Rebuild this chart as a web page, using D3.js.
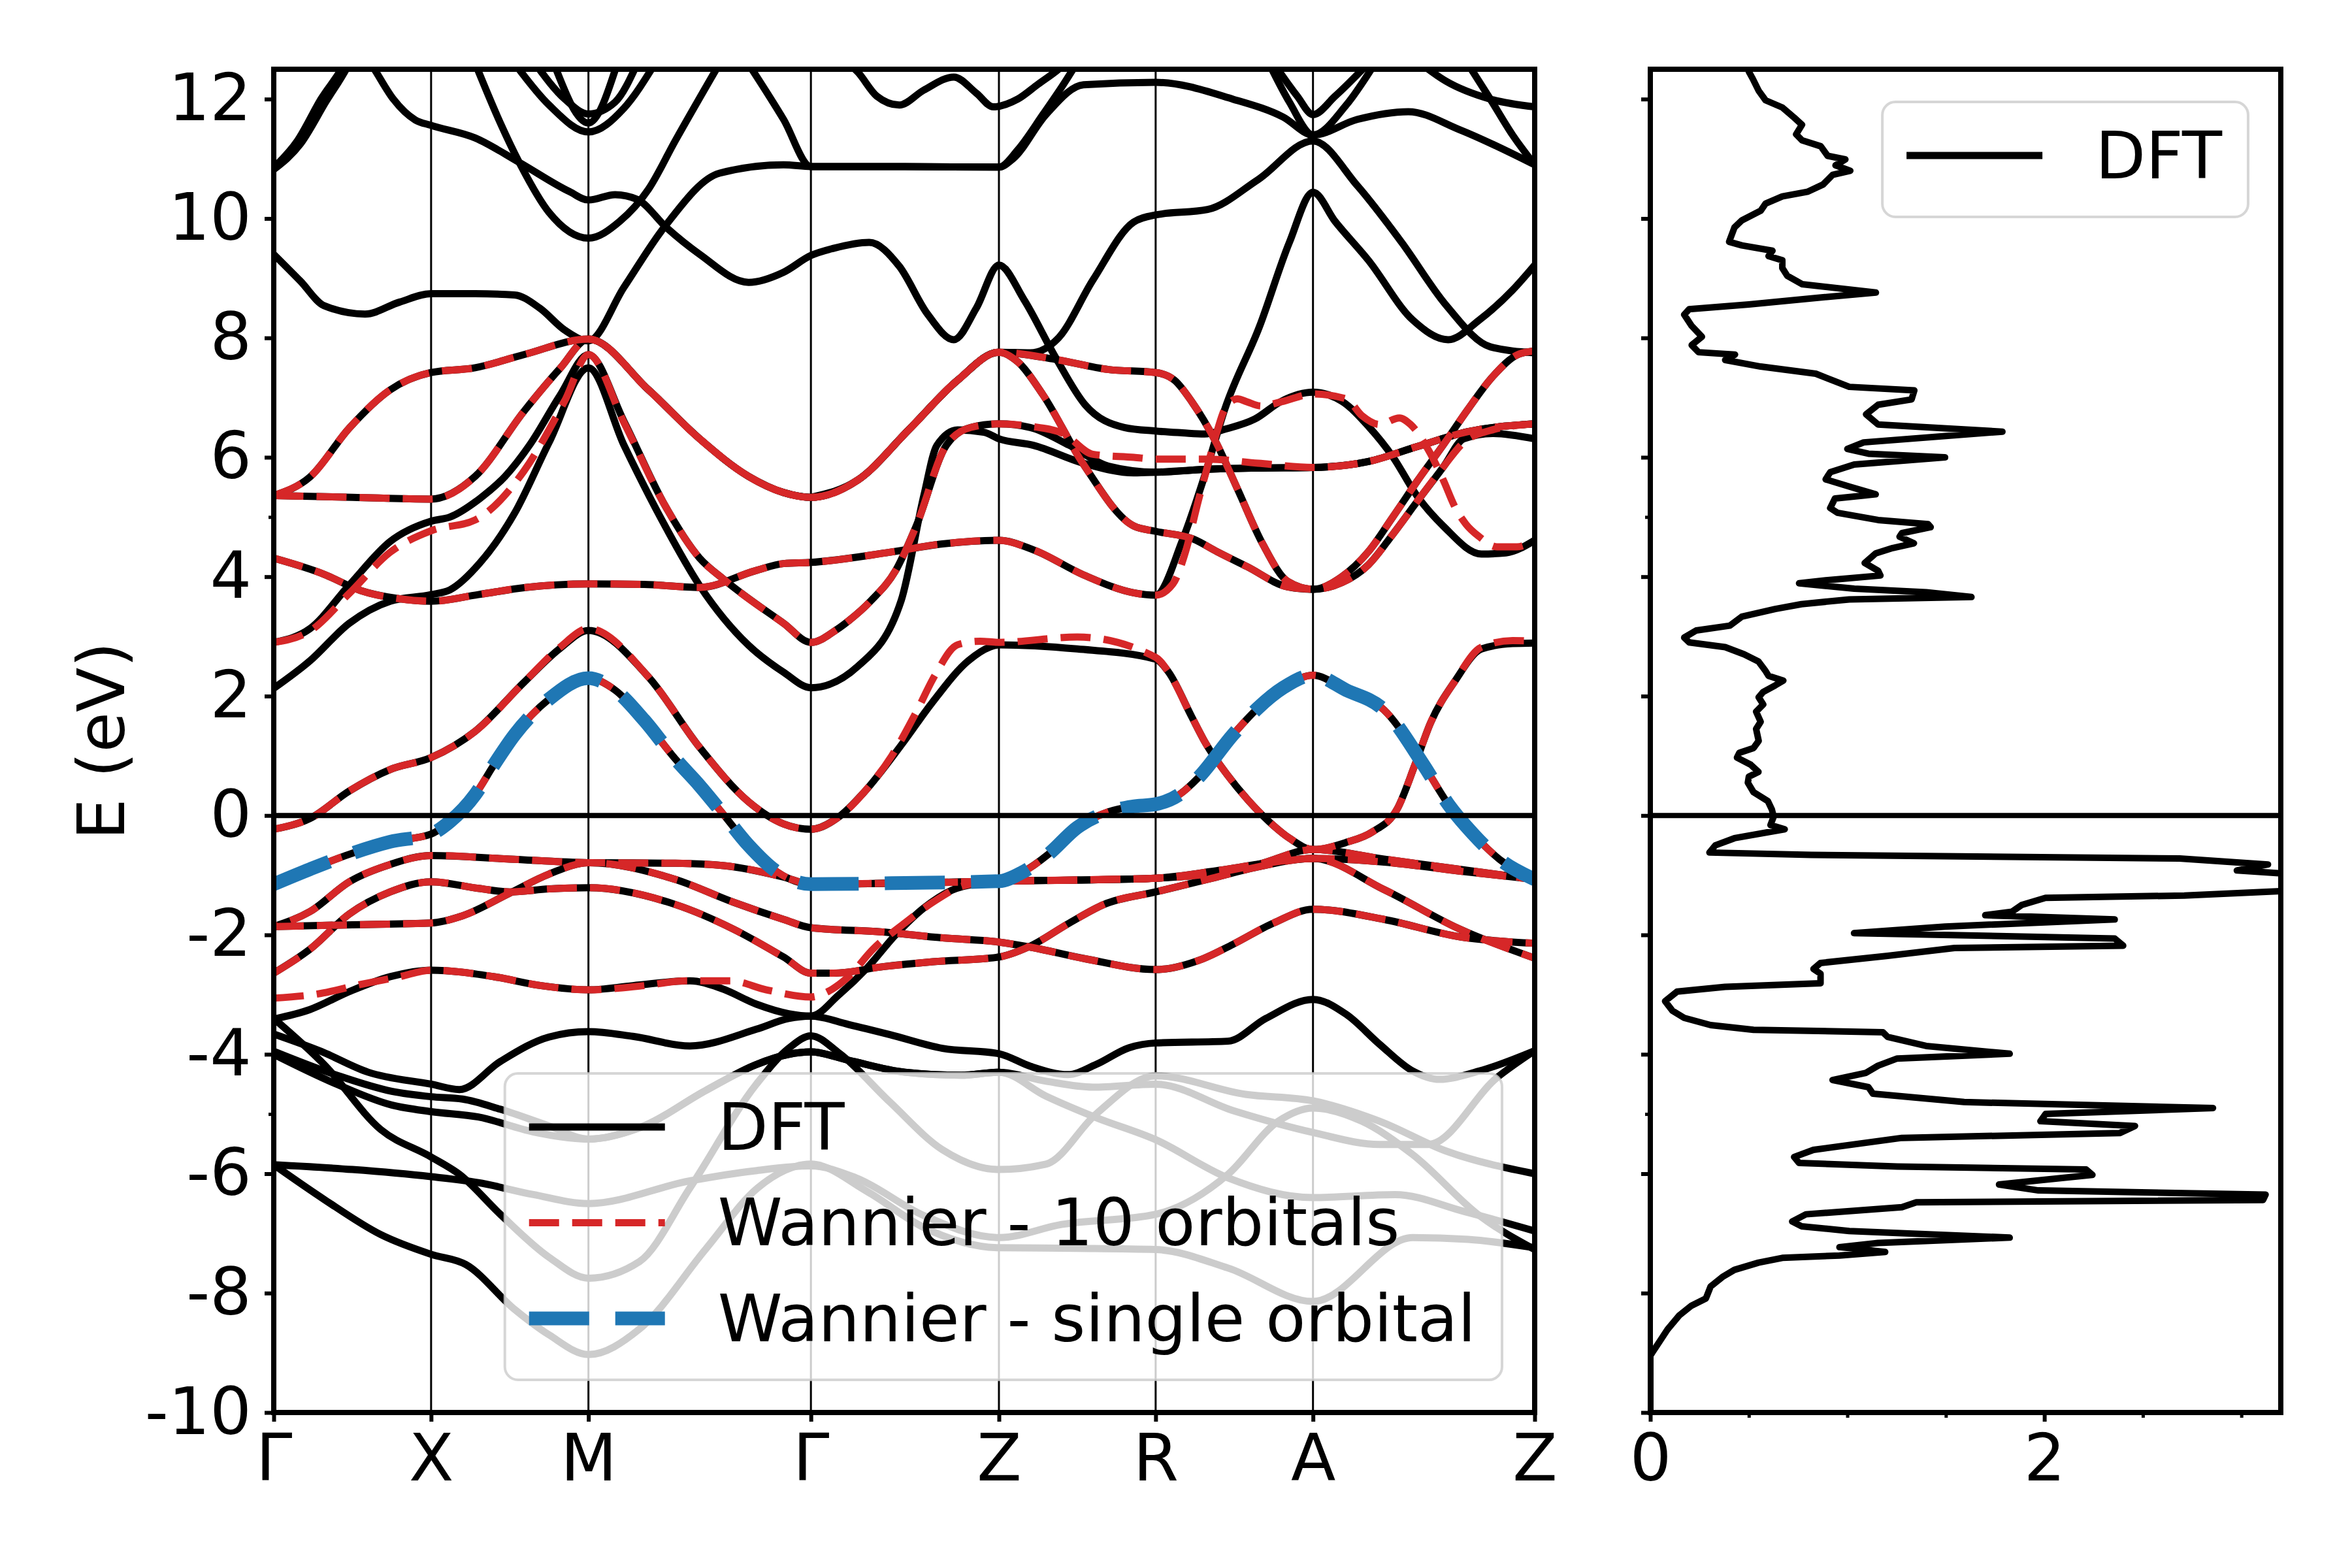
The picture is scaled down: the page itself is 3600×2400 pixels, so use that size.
<!DOCTYPE html>
<html>
<head>
<meta charset="utf-8">
<script src="https://cdn.jsdelivr.net/npm/d3@7/dist/d3.min.js"></script>
<style>
  body { margin: 0; background: #fff; }
</style>
</head>
<body>
<div id="chart"></div>
<script>
// k-path: labels and cumulative path length of each high-symmetry point
const kLabels = ["Γ", "X", "M", "Γ", "Z", "R", "A", "Z"];
const kDist = [0, 1, 2, 3.414, 4.609, 5.605, 6.605, 8.014];

const eTicks = [-10, -8, -6, -4, -2, 0, 2, 4, 6, 8, 10, 12];
const eMinor = [-5, 5];
const dosTicks = [0, 2];
const dosMinor = [0.5, 1, 1.5, 2.5, 3];

// bands: [segment position (0 = Γ ... 7 = Z), energy in eV]
// Wannier - 10 orbitals
const w10 = [[0,5.36],[0.23,5.67],[0.48,6.49],[0.74,7.13],[1,7.42],[1.28,7.5],[1.59,7.72],[2,7.98],[2.27,7.13],[2.5,6.31],[2.72,5.68],[2.877,5.41],[3,5.33],[3.25,5.62],[3.52,6.46],[3.78,7.29],[4,7.76],[4.36,7.64],[4.7,7.47],[5,7.42],[5.12,7.29],[5.23,6.93],[5.38,6.27],[5.52,5.47],[5.68,4.55],[5.84,3.92],[6,3.79],[6.13,4.0],[6.25,4.42],[6.36,5.0],[6.47,5.6],[6.59,6.22],[6.7,6.81],[6.81,7.35],[6.93,7.73],[7,7.78]];
const w9 = [[0,5.36],[0.5,5.33],[1,5.3],[1.28,5.68],[1.59,6.77],[1.82,7.49],[2,7.98],[2.27,7.13],[2.5,6.31],[2.72,5.68],[2.877,5.41],[3,5.33],[3.25,5.62],[3.52,6.46],[3.78,7.29],[4,7.76],[4.12,7.6],[4.28,7.05],[4.54,5.88],[4.86,4.85],[5,4.76],[5.24,4.63],[5.39,4.42],[5.58,4.17],[5.84,3.83],[6,3.79],[6.13,3.9],[6.25,4.2],[6.36,4.71],[6.47,5.26],[6.59,5.85],[6.68,6.25],[6.8,6.45],[7,6.56]];
const w8 = [[0,4.31],[0.32,4.04],[0.55,3.77],[0.8,3.63],[1,3.59],[1.3,3.7],[1.6,3.82],[2,3.88],[2.25,3.87],[2.5,3.82],[2.75,4.1],[2.877,4.22],[3,4.24],[3.4,4.4],[3.7,4.55],[4,4.61],[4.22,4.45],[4.54,4.03],[4.86,3.73],[5,3.69],[5.11,3.88],[5.19,4.42],[5.27,5.26],[5.33,5.85],[5.39,6.43],[5.44,6.81],[5.52,6.98],[5.58,6.93],[5.67,6.86],[5.8,6.93],[6,7.06],[6.15,6.98],[6.22,6.7],[6.3,6.55],[6.39,6.66],[6.44,6.55],[6.53,6.06],[6.59,5.6],[6.64,5.17],[6.69,4.88],[6.75,4.67],[6.83,4.5],[6.92,4.5],[7,4.61]];
const w7 = [[0,2.9],[0.23,3.09],[0.48,3.72],[0.74,4.41],[1,4.77],[1.28,4.95],[1.59,5.77],[1.85,6.95],[2,7.72],[2.16,6.58],[2.34,5.22],[2.5,4.31],[2.61,3.95],[2.877,3.22],[3,2.9],[3.14,3.12],[3.2,3.26],[3.32,3.6],[3.45,4.1],[3.56,4.85],[3.72,6.2],[3.85,6.5],[4,6.56],[4.2,6.52],[4.41,6.4],[4.6,6.05],[4.86,6.0],[5,5.97],[5.33,5.97],[5.65,5.9],[6,5.83],[6.25,5.93],[6.47,6.18],[6.7,6.43],[7,6.56]];
const w6 = [[0,-0.23],[0.23,-0.05],[0.48,0.41],[0.74,0.77],[1,0.97],[1.28,1.41],[1.59,2.23],[1.82,2.82],[2,3.13],[2.27,2.32],[2.5,1.14],[2.72,0.23],[2.877,-0.14],[3,-0.23],[3.15,-0.02],[3.28,0.38],[3.43,1.0],[3.56,1.73],[3.66,2.35],[3.78,2.86],[3.9,2.92],[4,2.9],[4.5,2.99],[5,2.65],[5.08,2.41],[5.23,1.65],[5.32,1.2],[5.45,0.7],[5.59,0.25],[5.72,-0.1],[5.85,-0.38],[6,-0.57],[6.15,-0.45],[6.27,-0.27],[6.38,0.11],[6.46,0.85],[6.53,1.55],[6.64,2.25],[6.76,2.82],[6.9,2.93],[7,2.92]];
const w5 = [[0,-1.15],[0.23,-0.9],[0.48,-0.65],[0.74,-0.44],[1,-0.31],[1.12,-0.1],[1.28,0.35],[1.4,0.85],[1.53,1.35],[1.75,1.95],[2,2.3],[2.12,2.1],[2.25,1.6],[2.39,0.95],[2.5,0.5],[2.6,0.05],[2.72,-0.5],[2.85,-0.95],[3,-1.15],[3.5,-1.13],[4,-1.1],[4.15,-0.95],[4.315,-0.65],[4.5,-0.2],[4.697,0.06],[4.85,0.15],[5,0.19],[5.15,0.35],[5.27,0.63],[5.49,1.35],[5.65,1.8],[5.81,2.14],[6,2.35],[6.15,2.1],[6.32,1.77],[6.5,0.84],[6.61,0.19],[6.72,-0.3],[6.84,-0.73],[7,-1.07]];
const w4 = [[0,-1.86],[0.23,-1.61],[0.48,-1.11],[0.74,-0.82],[1,-0.67],[1.5,-0.73],[2,-0.79],[2.39,-0.8],[2.61,-0.84],[2.877,-1.03],[3,-1.15],[3.5,-1.13],[4,-1.1],[4.5,-1.08],[5,-1.05],[5.4,-0.92],[5.7,-0.8],[6,-0.72],[6.32,-0.78],[6.66,-0.93],[7,-1.07]];
const w3 = [[0,-1.86],[0.5,-1.83],[1,-1.8],[1.2,-1.68],[1.5,-1.3],[1.75,-0.98],[2,-0.79],[2.39,-1.07],[2.65,-1.45],[2.877,-1.74],[3,-1.88],[3.38,-1.95],[3.7,-2.05],[4,-2.12],[4.19,-2.2],[4.55,-2.4],[5,-2.58],[5.3,-2.4],[5.49,-2.16],[5.75,-1.8],[6,-1.57],[6.32,-1.74],[6.66,-2.03],[7,-2.14]];
const w2 = [[0,-2.64],[0.23,-2.24],[0.48,-1.65],[0.74,-1.28],[1,-1.11],[1.3,-1.22],[1.5,-1.28],[1.75,-1.23],[2,-1.21],[2.39,-1.49],[2.65,-1.9],[2.877,-2.37],[3,-2.64],[3.12,-2.64],[3.39,-2.53],[3.65,-2.45],[4,-2.37],[4.19,-2.2],[4.45,-1.8],[4.67,-1.49],[5,-1.28],[5.33,-1.07],[5.65,-0.86],[6,-0.72],[6.32,-1.24],[6.66,-1.9],[7,-2.39]];
const w1 = [[0,-3.06],[0.3,-2.98],[0.55,-2.83],[0.8,-2.7],[1,-2.59],[1.4,-2.7],[1.7,-2.85],[2,-2.92],[2.25,-2.85],[2.44,-2.77],[2.64,-2.77],[2.8,-2.92],[3,-3.04],[3.09,-2.95],[3.2,-2.7],[3.33,-2.24],[3.5,-1.8],[3.65,-1.45],[3.81,-1.18],[4,-1.1],[4.5,-1.08],[5,-1.05],[5.33,-0.98],[5.65,-0.82],[6,-0.57],[6.32,-0.73],[6.66,-0.9],[7,-1.07]];
const wannier10 = [w1, w2, w3, w4, w5, w6, w7, w8, w9, w10];

// Wannier - single orbital
const wannier1 = w5;

// DFT bands
const u1 = [[0,10.85],[0.15,11.3],[0.3,12.0],[0.45,12.6],[0.55,13.2]];
const u2 = [[0,10.82],[0.17,11.25],[0.33,11.95],[0.48,12.6],[0.58,13.2]];
const u3 = [[0.52,13.0],[0.64,12.5],[0.76,12.0],[0.9,11.65],[1,11.56],[1.28,11.35],[1.56,10.94],[1.88,10.45],[2,10.31],[2.12,10.4],[2.22,10.32],[2.35,9.85],[2.5,9.4],[2.72,8.93],[2.877,9.1],[3,9.38],[3.12,9.5],[3.31,9.6],[3.47,9.2],[3.62,8.4],[3.76,7.97],[3.88,8.5],[4,9.22],[4.16,8.64],[4.36,7.68],[4.55,6.88],[4.8,6.5],[5,6.44],[5.17,6.41],[5.31,6.39],[5.44,6.47],[5.63,6.64],[5.8,6.94],[6,7.09],[6.13,6.94],[6.25,6.52],[6.36,6.01],[6.47,5.35],[6.59,4.84],[6.76,4.38],[6.87,4.4],[7,4.61]];
const u4 = [[0,9.4],[0.17,8.95],[0.32,8.54],[0.58,8.4],[0.8,8.6],[1,8.74],[1.28,8.74],[1.53,8.72],[1.69,8.5],[1.85,8.13],[2,7.95],[2.16,8.85],[2.34,9.85],[2.59,10.76],[2.877,10.9],[3,10.87],[3.5,10.87],[4,10.86],[4.09,11.0],[4.3,11.74],[4.54,12.24],[5,12.28],[5.49,12.0],[5.81,11.7],[6,11.4],[6.2,11.66],[6.43,11.79],[6.66,11.49],[7,10.9]];
const u5 = [[1.28,12.6],[1.44,11.6],[1.56,10.94],[1.75,10.1],[2,9.67],[2.14,9.95],[2.27,10.49],[2.39,11.3],[2.59,12.6]];
const u6 = [[2.7,12.7],[2.877,11.66],[3,10.87],[3.5,10.87],[4,10.86],[4.12,11.15],[4.28,11.74],[4.41,12.24],[4.52,12.7]];
const u7 = [[3.1,12.8],[3.25,12.45],[3.35,12.05],[3.47,11.9],[3.6,12.15],[3.76,12.37],[3.88,12.1],[3.97,11.87],[4.12,12.0],[4.25,12.25],[4.38,12.5],[4.5,12.8]];
const u8 = [[3,5.33],[3.25,5.62],[3.52,6.46],[3.78,7.29],[4,7.76],[4.2,7.75],[4.38,8.0],[4.6,8.97],[4.86,9.94],[5,10.06],[5.33,10.15],[5.65,10.65],[6,11.3],[6.2,10.55],[6.4,9.6],[6.6,8.55],[6.8,7.85],[7,7.75]];
const u9 = [[5.75,12.6],[5.9,12.05],[6,11.74],[6.1,12.05],[6.25,12.6]];
const u10 = [[5.72,12.6],[5.85,11.95],[6,11.4],[6.15,11.9],[6.28,12.6]];
const u11 = [[6.45,12.7],[6.6,12.3],[6.8,12.0],[7,11.87]];
const u12 = [[6.68,12.7],[6.8,12.0],[6.9,11.4],[7,10.9]];
const u13 = [[1.66,12.6],[1.85,12.0],[2,11.75],[2.12,11.95],[2.22,12.6]];
const u14 = [[1.53,12.6],[1.75,11.9],[2,11.45],[2.16,11.85],[2.3,12.6]];
const u15 = [[1.78,12.6],[2,11.6],[2.13,12.6]];
const bb = [[0,5.36],[0.5,5.33],[1,5.3],[1.28,5.68],[1.59,6.77],[1.82,7.49],[2,7.98],[2.27,7.13],[2.5,6.31],[2.72,5.68],[2.877,5.41],[3,5.33],[3.25,5.62],[3.52,6.46],[3.78,7.29],[4,7.76],[4.12,7.6],[4.28,7.05],[4.54,5.88],[4.86,4.85],[5,4.76],[5.24,4.63],[5.39,4.42],[5.58,4.17],[5.84,3.83],[6,3.79],[6.13,3.9],[6.25,4.2],[6.36,4.71],[6.47,5.26],[6.59,5.85],[6.68,6.31],[6.81,6.4],[7,6.31]];
const bc = [[0,2.9],[0.23,3.13],[0.48,3.86],[0.74,4.59],[1,4.93],[1.12,5.0],[1.31,5.31],[1.47,5.68],[1.63,6.22],[1.82,7.04],[2,7.72],[2.16,6.6],[2.34,5.22],[2.5,4.31],[2.61,3.95],[2.877,3.22],[3,2.9],[3.14,3.12],[3.2,3.26],[3.32,3.6],[3.45,4.1],[3.56,4.85],[3.72,6.2],[3.85,6.5],[4,6.56],[4.2,6.5],[4.45,6.2],[4.7,5.85],[5,5.75],[5.33,5.8],[5.65,5.82],[6,5.83],[6.25,5.93],[6.47,6.18],[6.7,6.43],[7,6.56]];
const bd = [[0,2.13],[0.23,2.59],[0.48,3.22],[0.74,3.59],[1,3.7],[1.12,3.78],[1.31,4.23],[1.53,5.06],[1.75,6.25],[2,7.5],[2.16,6.2],[2.33,4.95],[2.5,3.85],[2.72,2.85],[2.877,2.4],[3,2.14],[3.25,2.5],[3.48,3.6],[3.6,5.35],[3.67,6.2],[3.78,6.46],[3.92,6.42],[4,6.31],[4.22,6.2],[4.54,5.9],[4.86,5.74],[5,5.75],[5.33,5.8],[5.65,5.82],[6,5.83],[6.25,5.93],[6.47,6.18],[6.7,6.43],[7,6.56]];
const be = [[0,4.31],[0.32,4.04],[0.55,3.77],[0.8,3.63],[1,3.59],[1.3,3.7],[1.6,3.82],[2,3.88],[2.25,3.87],[2.5,3.82],[2.75,4.1],[2.877,4.22],[3,4.24],[3.4,4.4],[3.7,4.55],[4,4.61],[4.22,4.45],[4.54,4.03],[4.86,3.73],[5,3.69],[5.17,4.61],[5.31,5.68],[5.44,6.81],[5.66,8.19],[5.85,9.6],[6,10.44],[6.1,9.95],[6.25,9.3],[6.45,8.3],[6.61,7.97],[6.75,8.3],[6.9,8.8],[7,9.22]];
const bf = [[0,-0.23],[0.23,-0.05],[0.48,0.41],[0.74,0.77],[1,0.97],[1.28,1.41],[1.59,2.23],[1.82,2.8],[2,3.1],[2.27,2.32],[2.5,1.14],[2.72,0.23],[2.877,-0.14],[3,-0.23],[3.15,-0.02],[3.28,0.38],[3.49,1.22],[3.64,1.87],[3.84,2.6],[3.95,2.82],[4,2.86],[4.5,2.79],[5,2.62],[5.08,2.41],[5.23,1.65],[5.32,1.2],[5.45,0.7],[5.59,0.25],[5.72,-0.1],[5.85,-0.38],[6,-0.57],[6.15,-0.45],[6.27,-0.27],[6.38,0.11],[6.46,0.85],[6.53,1.55],[6.64,2.25],[6.76,2.79],[6.9,2.88],[7,2.89]];
const bk = [[0,-3.41],[0.23,-3.25],[0.48,-2.95],[0.74,-2.7],[1,-2.59],[1.4,-2.7],[1.7,-2.85],[2,-2.92],[2.2,-2.85],[2.456,-2.77],[2.6,-2.9],[2.755,-3.16],[2.9,-3.32],[3,-3.36],[3.15,-3.0],[3.3,-2.55],[3.45,-2.0],[3.6,-1.55],[3.75,-1.25],[3.9,-1.13],[4,-1.1],[4.5,-1.08],[5,-1.05],[5.33,-0.98],[5.65,-0.82],[6,-0.57],[6.32,-0.73],[6.66,-0.9],[7,-1.07]];
const bl = [[0,-3.66],[0.3,-3.95],[0.6,-4.3],[1,-4.5],[1.18,-4.59],[1.44,-4.12],[1.75,-3.71],[2,-3.62],[2.2,-3.7],[2.456,-3.86],[2.755,-3.58],[2.9,-3.4],[3,-3.36],[3.2,-3.5],[3.42,-3.67],[3.7,-3.9],[4,-3.99],[4.2,-4.2],[4.44,-4.34],[4.62,-4.17],[4.83,-3.89],[5,-3.81],[5.46,-3.78],[5.7,-3.4],[6,-3.08],[6.15,-3.33],[6.3,-3.83],[6.45,-4.28],[6.57,-4.42],[6.75,-4.28],[7,-3.94]];
const l1 = [[0,-3.4],[0.32,-4.17],[0.68,-5.26],[1,-5.72],[1.18,-6.01],[1.44,-6.68],[1.75,-7.4],[2,-7.75],[2.23,-7.47],[2.456,-6.24],[2.755,-4.5],[2.9,-3.9],[3,-3.69],[3.15,-3.98],[3.42,-4.8],[3.7,-5.6],[4,-5.93],[4.3,-5.84],[4.62,-5.0],[5,-4.36],[5.57,-4.67],[6,-4.78],[6.3,-5.12],[6.6,-5.62],[7,-6.0]];
const l2 = [[0,-4.0],[0.4,-4.5],[0.75,-4.85],[1,-4.96],[1.3,-5.05],[1.65,-5.3],[2,-5.42],[2.23,-5.23],[2.53,-4.6],[2.755,-4.17],[2.9,-4.0],[3,-3.96],[3.2,-4.1],[3.5,-4.3],[3.8,-4.35],[4,-4.3],[4.3,-4.7],[4.62,-5.06],[5,-5.43],[5.46,-6.07],[6,-6.4],[6.37,-6.35],[6.68,-6.63],[7,-6.96]];
const l3 = [[0,-5.85],[0.5,-5.93],[1,-6.05],[1.3,-6.15],[1.65,-6.35],[2,-6.5],[2.456,-6.12],[2.75,-5.95],[3,-5.87],[3.24,-6.07],[3.6,-6.7],[4,-7.07],[4.4,-6.85],[5,-6.68],[5.46,-6.01],[5.78,-5.12],[6,-4.9],[6.22,-5.12],[6.45,-5.68],[6.75,-6.7],[7,-7.27]];
const l4 = [[0,-5.85],[0.32,-6.43],[0.68,-7.02],[1,-7.35],[1.22,-7.52],[1.53,-8.27],[1.75,-8.7],[2,-9.03],[2.23,-8.6],[2.53,-7.25],[2.76,-6.24],[3,-5.84],[3.3,-6.3],[3.6,-6.9],[4,-7.24],[4.5,-7.25],[5,-7.27],[5.46,-7.58],[6,-8.14],[6.45,-7.07],[6.7,-7.1],[7,-7.24]];
const l6 = [[0,-3.95],[0.4,-4.35],[0.75,-4.62],[1,-4.71],[1.2,-4.75],[1.44,-4.92],[1.75,-5.2],[2,-5.42],[2.23,-5.23],[2.53,-4.6],[2.755,-4.17],[2.9,-4.0],[3,-3.96],[3.2,-4.1],[3.5,-4.3],[3.8,-4.35],[4,-4.3],[4.3,-4.45],[4.6,-4.55],[5,-4.5],[5.5,-4.95],[6,-5.31],[6.3,-5.51],[6.52,-5.51],[6.83,-4.39],[7,-3.94]];
const dftBands = [u1, u2, u3, u4, u5, u6, u7, u8, u9, u10, u11, u12, u13, u14, u15,
  w10, bb, bc, bd, be, bf, w5, w4, w3, w2, bk, bl, l1, l2, l3, l4, l6];

// density of states: [energy eV, DOS]
const dos = [[12.5,0.50],[12.46,0.50],[12.34,0.52],[12.14,0.55],[11.98,0.585],[11.86,0.67],[11.69,0.73],[11.57,0.77],[11.41,0.74],[11.31,0.77],[11.21,0.865],[11.05,0.90],[10.99,0.99],[10.89,0.94],[10.80,1.015],[10.73,0.925],[10.57,0.877],[10.45,0.80],[10.37,0.67],[10.25,0.585],[10.13,0.56],[9.97,0.465],[9.85,0.427],[9.61,0.40],[9.55,0.465],[9.46,0.62],[9.37,0.60],[9.30,0.67],[9.17,0.67],[9.04,0.695],[8.90,0.77],[8.76,1.145],[8.68,0.877],[8.56,0.50],[8.48,0.197],[8.39,0.172],[8.20,0.21],[8.02,0.262],[7.88,0.21],[7.76,0.245],[7.72,0.43],[7.63,0.38],[7.52,0.56],[7.40,0.84],[7.18,1.01],[7.12,1.34],[6.97,1.326],[6.88,1.156],[6.72,1.095],[6.55,1.156],[6.43,1.787],[6.25,1.083],[6.14,1.0],[6.06,1.107],[6.0,1.496],[5.88,1.035],[5.75,0.913],[5.63,0.89],[5.51,1.01],[5.38,1.144],[5.31,0.937],[5.15,0.913],[5.07,0.95],[4.95,1.156],[4.88,1.41],[4.83,1.423],[4.73,1.277],[4.67,1.265],[4.56,1.338],[4.48,1.23],[4.39,1.144],[4.23,1.088],[4.10,1.156],[4.02,1.168],[3.94,0.89],[3.89,0.755],[3.80,1.035],[3.74,1.40],[3.66,1.63],[3.62,1.01],[3.54,0.767],[3.46,0.634],[3.33,0.464],[3.18,0.403],[3.10,0.233],[2.98,0.172],[2.90,0.197],[2.82,0.38],[2.70,0.476],[2.58,0.549],[2.42,0.585],[2.34,0.60],[2.26,0.675],[2.18,0.634],[2.07,0.573],[1.98,0.55],[1.86,0.573],[1.74,0.537],[1.57,0.56],[1.45,0.537],[1.25,0.55],[1.13,0.524],[1.05,0.452],[0.97,0.44],[0.85,0.51],[0.73,0.549],[0.65,0.50],[0.55,0.495],[0.39,0.524],[0.24,0.597],[0.10,0.617],[-0.02,0.626],[-0.16,0.61],[-0.23,0.682],[-0.38,0.427],[-0.50,0.33],[-0.62,0.30],[-0.66,0.816],[-0.72,2.686],[-0.82,3.135],[-0.92,2.977],[-0.98,3.25],[-1.12,3.6],[-1.26,3.25],[-1.34,2.71],[-1.38,2.006],[-1.50,1.884],[-1.61,1.836],[-1.67,1.70],[-1.74,2.357],[-1.86,1.496],[-1.97,1.034],[-2.06,2.357],[-2.18,2.40],[-2.22,1.544],[-2.35,1.205],[-2.47,0.864],[-2.57,0.828],[-2.65,0.864],[-2.81,0.864],[-2.87,0.379],[-2.95,0.136],[-3.11,0.075],[-3.27,0.112],[-3.39,0.172],[-3.51,0.306],[-3.59,0.524],[-3.63,1.18],[-3.71,1.205],[-3.86,1.40],[-3.99,1.824],[-4.07,1.253],[-4.19,1.156],[-4.31,1.095],[-4.43,0.925],[-4.55,1.107],[-4.66,1.13],[-4.80,1.593],[-4.90,2.856],[-5.0,2.006],[-5.12,1.98],[-5.20,2.46],[-5.32,2.382],[-5.40,1.277],[-5.60,0.828],[-5.72,0.73],[-5.82,0.755],[-5.88,1.253],[-5.93,2.212],[-6.02,2.244],[-6.12,1.945],[-6.18,1.77],[-6.28,1.97],[-6.35,3.123],[-6.44,3.11],[-6.48,1.35],[-6.56,1.277],[-6.68,0.79],[-6.80,0.72],[-6.88,0.767],[-6.96,1.01],[-7.07,1.824],[-7.16,1.156],[-7.23,0.96],[-7.31,1.192],[-7.37,0.96],[-7.41,0.67],[-7.49,0.549],[-7.61,0.427],[-7.73,0.366],[-7.89,0.306],[-8.09,0.282],[-8.21,0.209],[-8.37,0.148],[-8.61,0.087],[-8.85,0.039],[-8.97,0.015],[-9.05,0],[-10,0]];

const bandLegend = ["DFT", "Wannier - 10 orbitals", "Wannier - single orbital"];
const dosLegend = ["DFT"];

// ---- layout ----
const W = 3600, H = 2400;
const fs = 100;
const bandL = 419, bandR = 2349, plotTop = 106, plotBottom = 2162;
const dosL = 2526, dosR = 3491;
const LW = 11, BLUE_W = 21;
const RED = "#d62728", BLUE = "#1f77b4";
const RED_DASH = [46, 20], BLUE_DASH = [92, 40];

const y = d3.scaleLinear().domain([-10, 12.5]).range([plotBottom, plotTop]);
const xk = d3.scaleLinear().domain([0, kDist[kDist.length - 1]]).range([bandL, bandR]);
const xs = d3.scaleLinear().domain(d3.range(kDist.length)).range(kDist.map(xk));
const xd = d3.scaleLinear().domain([0, 3.2]).range([dosL, dosR]);

const svg = d3.select("#chart").append("svg")
    .attr("width", W).attr("height", H)
    .style("font-family", "'DejaVu Sans', sans-serif");
svg.append("rect").attr("width", W).attr("height", H).attr("fill", "#fff");

const defs = svg.append("defs");
defs.append("clipPath").attr("id", "clipBands").append("rect")
    .attr("x", bandL).attr("y", plotTop).attr("width", bandR - bandL).attr("height", plotBottom - plotTop);
defs.append("clipPath").attr("id", "clipDos").append("rect")
    .attr("x", dosL).attr("y", plotTop).attr("width", dosR - dosL).attr("height", plotBottom - plotTop);

// high-symmetry vertical lines
svg.append("g").selectAll("line")
  .data(kDist.slice(1, -1))
  .join("line")
    .attr("x1", d => xk(d)).attr("x2", d => xk(d))
    .attr("y1", plotTop).attr("y2", plotBottom)
    .attr("stroke", "#000").attr("stroke-width", 3);

const bandLine = d3.line()
    .x(d => xs(d[0]))
    .y(d => y(d[1]))
    .curve(d3.curveMonotoneX);

const gBands = svg.append("g").attr("clip-path", "url(#clipBands)");

gBands.append("g").selectAll("path")
  .data(dftBands)
  .join("path")
    .attr("d", bandLine)
    .attr("fill", "none")
    .attr("stroke", "#000")
    .attr("stroke-width", LW);

const redPaths = gBands.append("g").selectAll("path")
  .data(wannier10)
  .join("path")
    .attr("d", bandLine)
    .attr("fill", "none")
    .attr("stroke", RED)
    .attr("stroke-width", LW)
    .attr("stroke-dasharray", RED_DASH.join(","));

// dash phase helpers for bands that run on top of each other
function lengthAtX(node, xTarget) {
  let lo = 0, hi = node.getTotalLength();
  for (let i = 0; i < 40; i++) {
    const mid = (lo + hi) / 2;
    if (node.getPointAtLength(mid).x < xTarget) lo = mid; else hi = mid;
  }
  return lo;
}
const period = RED_DASH[0] + RED_DASH[1];
const nodeOf = band => redPaths.filter(d => d === band).node();
function setPhase(band, ref, s, extra) {
  const shift = lengthAtX(nodeOf(ref), xs(s)) - lengthAtX(nodeOf(band), xs(s)) + extra;
  d3.select(nodeOf(band)).attr("stroke-dashoffset", ((shift % period) + period) % period);
}
// w9 and w10 coincide between M and Z: interleave so the pair reads as solid red
setPhase(w9, w10, 2.5, period / 2);
// w4 and w1 coincide between Z and R: keep their dashes in step
setPhase(w4, w1, 4.5, 0);

gBands.append("path")
    .datum(wannier1)
    .attr("d", bandLine)
    .attr("fill", "none")
    .attr("stroke", BLUE)
    .attr("stroke-width", BLUE_W)
    .attr("stroke-dasharray", BLUE_DASH.join(","));

// DOS
svg.append("g").attr("clip-path", "url(#clipDos)")
  .append("path")
    .datum(dos)
    .attr("d", d3.line().x(d => xd(d[1])).y(d => y(d[0])))
    .attr("fill", "none")
    .attr("stroke", "#000")
    .attr("stroke-width", 10)
    .attr("stroke-linejoin", "round");

// Fermi level
svg.append("g").selectAll("line")
  .data([[bandL, bandR], [dosL, dosR]])
  .join("line")
    .attr("x1", d => d[0]).attr("x2", d => d[1])
    .attr("y1", y(0)).attr("y2", y(0))
    .attr("stroke", "#000").attr("stroke-width", 8);

// axes
function styleAxis(g, width) {
  g.select(".domain").remove();
  g.selectAll(".tick line").attr("stroke", "#000").attr("stroke-width", width || 6);
  g.selectAll(".tick text")
      .attr("fill", "#000")
      .style("font-size", fs + "px")
      .style("font-family", "'DejaVu Sans', sans-serif");
}

svg.append("g").attr("transform", `translate(${bandL},0)`)
    .call(d3.axisLeft(y).tickValues(eTicks).tickFormat(d => String(d)).tickSize(14).tickPadding(20))
    .call(styleAxis);
svg.append("g").attr("transform", `translate(${bandL},0)`)
    .call(d3.axisLeft(y).tickValues(eMinor).tickFormat("").tickSize(8))
    .call(g => styleAxis(g, 5));
svg.append("g").attr("transform", `translate(0,${plotBottom})`)
    .call(d3.axisBottom(xk).tickValues(kDist).tickFormat((d, i) => kLabels[i]).tickSize(14).tickPadding(19))
    .call(styleAxis);

svg.append("g").attr("transform", `translate(${dosL},0)`)
    .call(d3.axisLeft(y).tickValues(eTicks).tickFormat("").tickSize(14))
    .call(styleAxis);
svg.append("g").attr("transform", `translate(${dosL},0)`)
    .call(d3.axisLeft(y).tickValues(eMinor).tickFormat("").tickSize(8))
    .call(g => styleAxis(g, 5));
svg.append("g").attr("transform", `translate(0,${plotBottom})`)
    .call(d3.axisBottom(xd).tickValues(dosTicks).tickFormat(d => String(d)).tickSize(14).tickPadding(19))
    .call(styleAxis);
svg.append("g").attr("transform", `translate(0,${plotBottom})`)
    .call(d3.axisBottom(xd).tickValues(dosMinor).tickFormat("").tickSize(8))
    .call(g => styleAxis(g, 5));

// spines
svg.append("g").selectAll("rect")
  .data([[bandL, bandR], [dosL, dosR]])
  .join("rect")
    .attr("x", d => d[0]).attr("y", plotTop)
    .attr("width", d => d[1] - d[0]).attr("height", plotBottom - plotTop)
    .attr("fill", "none").attr("stroke", "#000").attr("stroke-width", 8);

// y label
svg.append("text")
    .attr("transform", `translate(190,${(plotTop + plotBottom) / 2}) rotate(-90)`)
    .attr("text-anchor", "middle")
    .style("font-size", fs + "px")
    .text("E (eV)");

// legends
function drawLegend(labels, styles, anchor) {
  const g = svg.append("g");
  const rowH = 1.465 * fs;
  const frame = g.append("rect");
  const texts = g.selectAll("text").data(labels).join("text")
      .style("font-size", fs + "px")
      .attr("dominant-baseline", "central")
      .text(d => d);
  const maxW = d3.max(texts.nodes(), n => n.getComputedTextLength());
  const boxW = 0.37 * fs + 2.08 * fs + 0.81 * fs + maxW + 0.4 * fs;
  const boxH = 1.76 * fs + (labels.length - 1) * rowH;
  const x0 = anchor.right - 0.5 * fs - boxW;
  const y0 = anchor.bottom != null ? anchor.bottom - 0.5 * fs - boxH : anchor.top + 0.5 * fs;
  frame.attr("x", x0).attr("y", y0).attr("width", boxW).attr("height", boxH)
      .attr("rx", 20).attr("ry", 20)
      .attr("fill", "#fff").attr("fill-opacity", 0.8)
      .attr("stroke", "#cccccc").attr("stroke-opacity", 0.8).attr("stroke-width", 4);
  const rowY = i => y0 + 0.82 * fs + i * rowH;
  texts.attr("x", x0 + 0.37 * fs + 2.08 * fs + 0.81 * fs).attr("y", (d, i) => rowY(i));
  g.selectAll("line").data(styles).join("line")
      .attr("x1", x0 + 0.37 * fs).attr("x2", x0 + 0.37 * fs + 2.08 * fs)
      .attr("y1", (d, i) => rowY(i)).attr("y2", (d, i) => rowY(i))
      .attr("stroke", d => d.color)
      .attr("stroke-width", d => d.width)
      .attr("stroke-dasharray", d => d.dash ? d.dash.join(",") : null);
}

drawLegend(bandLegend, [
  { color: "#000", width: LW },
  { color: RED, width: LW, dash: RED_DASH },
  { color: BLUE, width: BLUE_W, dash: BLUE_DASH }
], { right: bandR, bottom: plotBottom });

drawLegend(dosLegend, [{ color: "#000", width: LW }], { right: dosR, top: plotTop });
</script>
</body>
</html>
